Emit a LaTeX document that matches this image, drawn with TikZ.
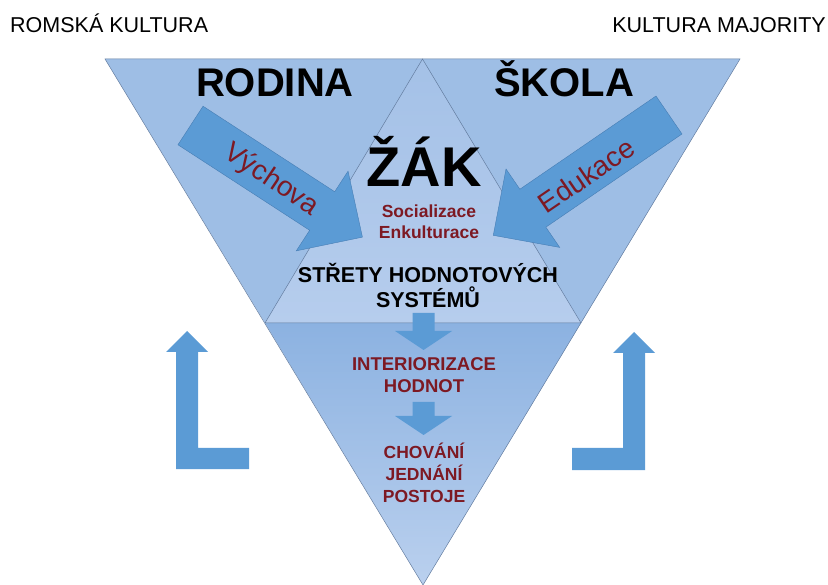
\documentclass[tikz,border=0pt]{standalone}
\usepackage{fontspec}
\setmainfont{Liberation Sans}
\usetikzlibrary{calc}
\definecolor{sipka}{RGB}{91,155,213}
\definecolor{sipkaokraj}{RGB}{70,125,180}
\definecolor{horni}{RGB}{158,190,229}
\definecolor{stred1}{RGB}{164,193,231}
\definecolor{stred2}{RGB}{182,205,237}
\definecolor{dolni1}{RGB}{140,178,225}
\definecolor{dolni2}{RGB}{186,208,238}
\definecolor{cervena}{RGB}{125,25,35}
\definecolor{hrana}{RGB}{100,125,160}

\begin{document}
\begin{tikzpicture}[x=1pt,y=-1pt,
	hrany/.style={draw=hrana,line width=0.5pt},
	blok/.style={fill=sipka,draw=sipkaokraj,line width=0.4pt},
	hlav/.style={font=\fontsize{21.5}{26}\selectfont,inner sep=0pt},
	velky/.style={font=\fontsize{40}{48}\selectfont\bfseries,anchor=base,inner sep=0pt},
	zak/.style={font=\fontsize{56}{60}\selectfont\bfseries,anchor=base,inner sep=0pt},
	sipkatext/.style={font=\fontsize{28}{30}\selectfont,text=cervena,inner sep=0pt},
	cerveny/.style={font=\fontsize{#1}{#1}\selectfont\bfseries,text=cervena,anchor=base,inner sep=0pt},
	cerny/.style={font=\fontsize{21.5}{24}\selectfont\bfseries,anchor=base,inner sep=0pt}]
	\useasboundingbox (0,0) rectangle (828,585);
	\coordinate (A) at (105,59); %levy horni roh
	\coordinate (B) at (740,59); %pravy horni roh
	\coordinate (C) at (423,585); %spodni vrchol
	\coordinate (V) at (422.5,59); %vrchol zaka
	\coordinate (L) at (265,323);
	\coordinate (P) at (581,323);
	\fill[horni] (A) -- (B) -- (P) -- (L) -- cycle;
	\shade[top color=stred1,bottom color=stred2] (V) -- (L) -- (P) -- cycle;
	\shade[top color=dolni1,bottom color=dolni2] (L) -- (P) -- (C) -- cycle;
	\draw[hrany] (A) -- (B) -- (C) -- cycle;
	\draw[hrany] (L) -- (V) -- (P) -- cycle;
	% sipky z rodiny a skoly
	\coordinate (vt) at (190.5,125.5); \coordinate (vh) at (362,237);
	\coordinate (et) at (669,115); \coordinate (eh) at (493,235);
	\begin{scope}[shift={(vt)},rotate=-33]
		\filldraw[blok] (0,-23) -- (157,-23) -- (157,-47.5) -- (205,0) -- (157,47.5) -- (157,23) -- (0,23) -- cycle;
	\end{scope}
	\begin{scope}[shift={(et)},rotate=-145.6]
		\filldraw[blok] (0,-23) -- (165,-23) -- (165,-47.5) -- (213,0) -- (165,47.5) -- (165,23) -- (0,23) -- cycle;
	\end{scope}
	\node[sipkatext,rotate=-34] (vychova) at ($(vt)!0.47!(vh)+(0,2)$) {Výchova};
	\node[sipkatext,rotate=34.4] (edukace) at ($(et)!0.47!(eh)+(0,4)$) {Edukace};
	% sipky dolu
	\fill[sipka] (412.5,313) -- (434.5,313) -- (434.5,331) -- (452,331) -- (423.5,350) -- (395,331) -- (412.5,331) -- cycle;
	\fill[sipka] (412.5,402) -- (434.5,402) -- (434.5,416) -- (452,416) -- (423.5,435) -- (395,416) -- (412.5,416) -- cycle;
	% zpetne vazby
	\fill[sipka] (176,469) -- (249,469) -- (249,448) -- (198,448) -- (198,352) -- (208,352) -- (187,331) -- (166,352) -- (176,352) -- cycle;
	\fill[sipka] (572,470) -- (645,470) -- (645,353) -- (655,353) -- (634,332) -- (613,353) -- (623,353) -- (623,448) -- (572,448) -- cycle;
	% texty
	\node[hlav,anchor=base west] (romska) at (10,33) {ROMSKÁ KULTURA};
	\node[hlav,anchor=base east] (majorita) at (826,33) {KULTURA MAJORITY};
	\node[velky] (rodina) at (275,97) {RODINA};
	\node[velky] (skola) at (564,97) {ŠKOLA};
	\node[zak] (zak) at (424,187) {ŽÁK};
	\node[cerveny=17.5] (soc) at (429,218) {Socializace};
	\node[cerveny=17.5] (enk) at (429,238.5) {Enkulturace};
	\node[cerny] (stret1) at (428,283) {STŘETY HODNOTOVÝCH};
	\node[cerny] (stret2) at (428,308) {SYSTÉMŮ};
	\node[cerveny=18.5] (inter1) at (424,371) {INTERIORIZACE};
	\node[cerveny=18.5] (inter2) at (424,393) {HODNOT};
	\node[cerveny=17.5] (chovani) at (424,459) {CHOVÁNÍ};
	\node[cerveny=17.5] (jednani) at (424,480.5) {JEDNÁNÍ};
	\node[cerveny=17.5] (postoje) at (424,502) {POSTOJE};
\end{tikzpicture}
\end{document}
